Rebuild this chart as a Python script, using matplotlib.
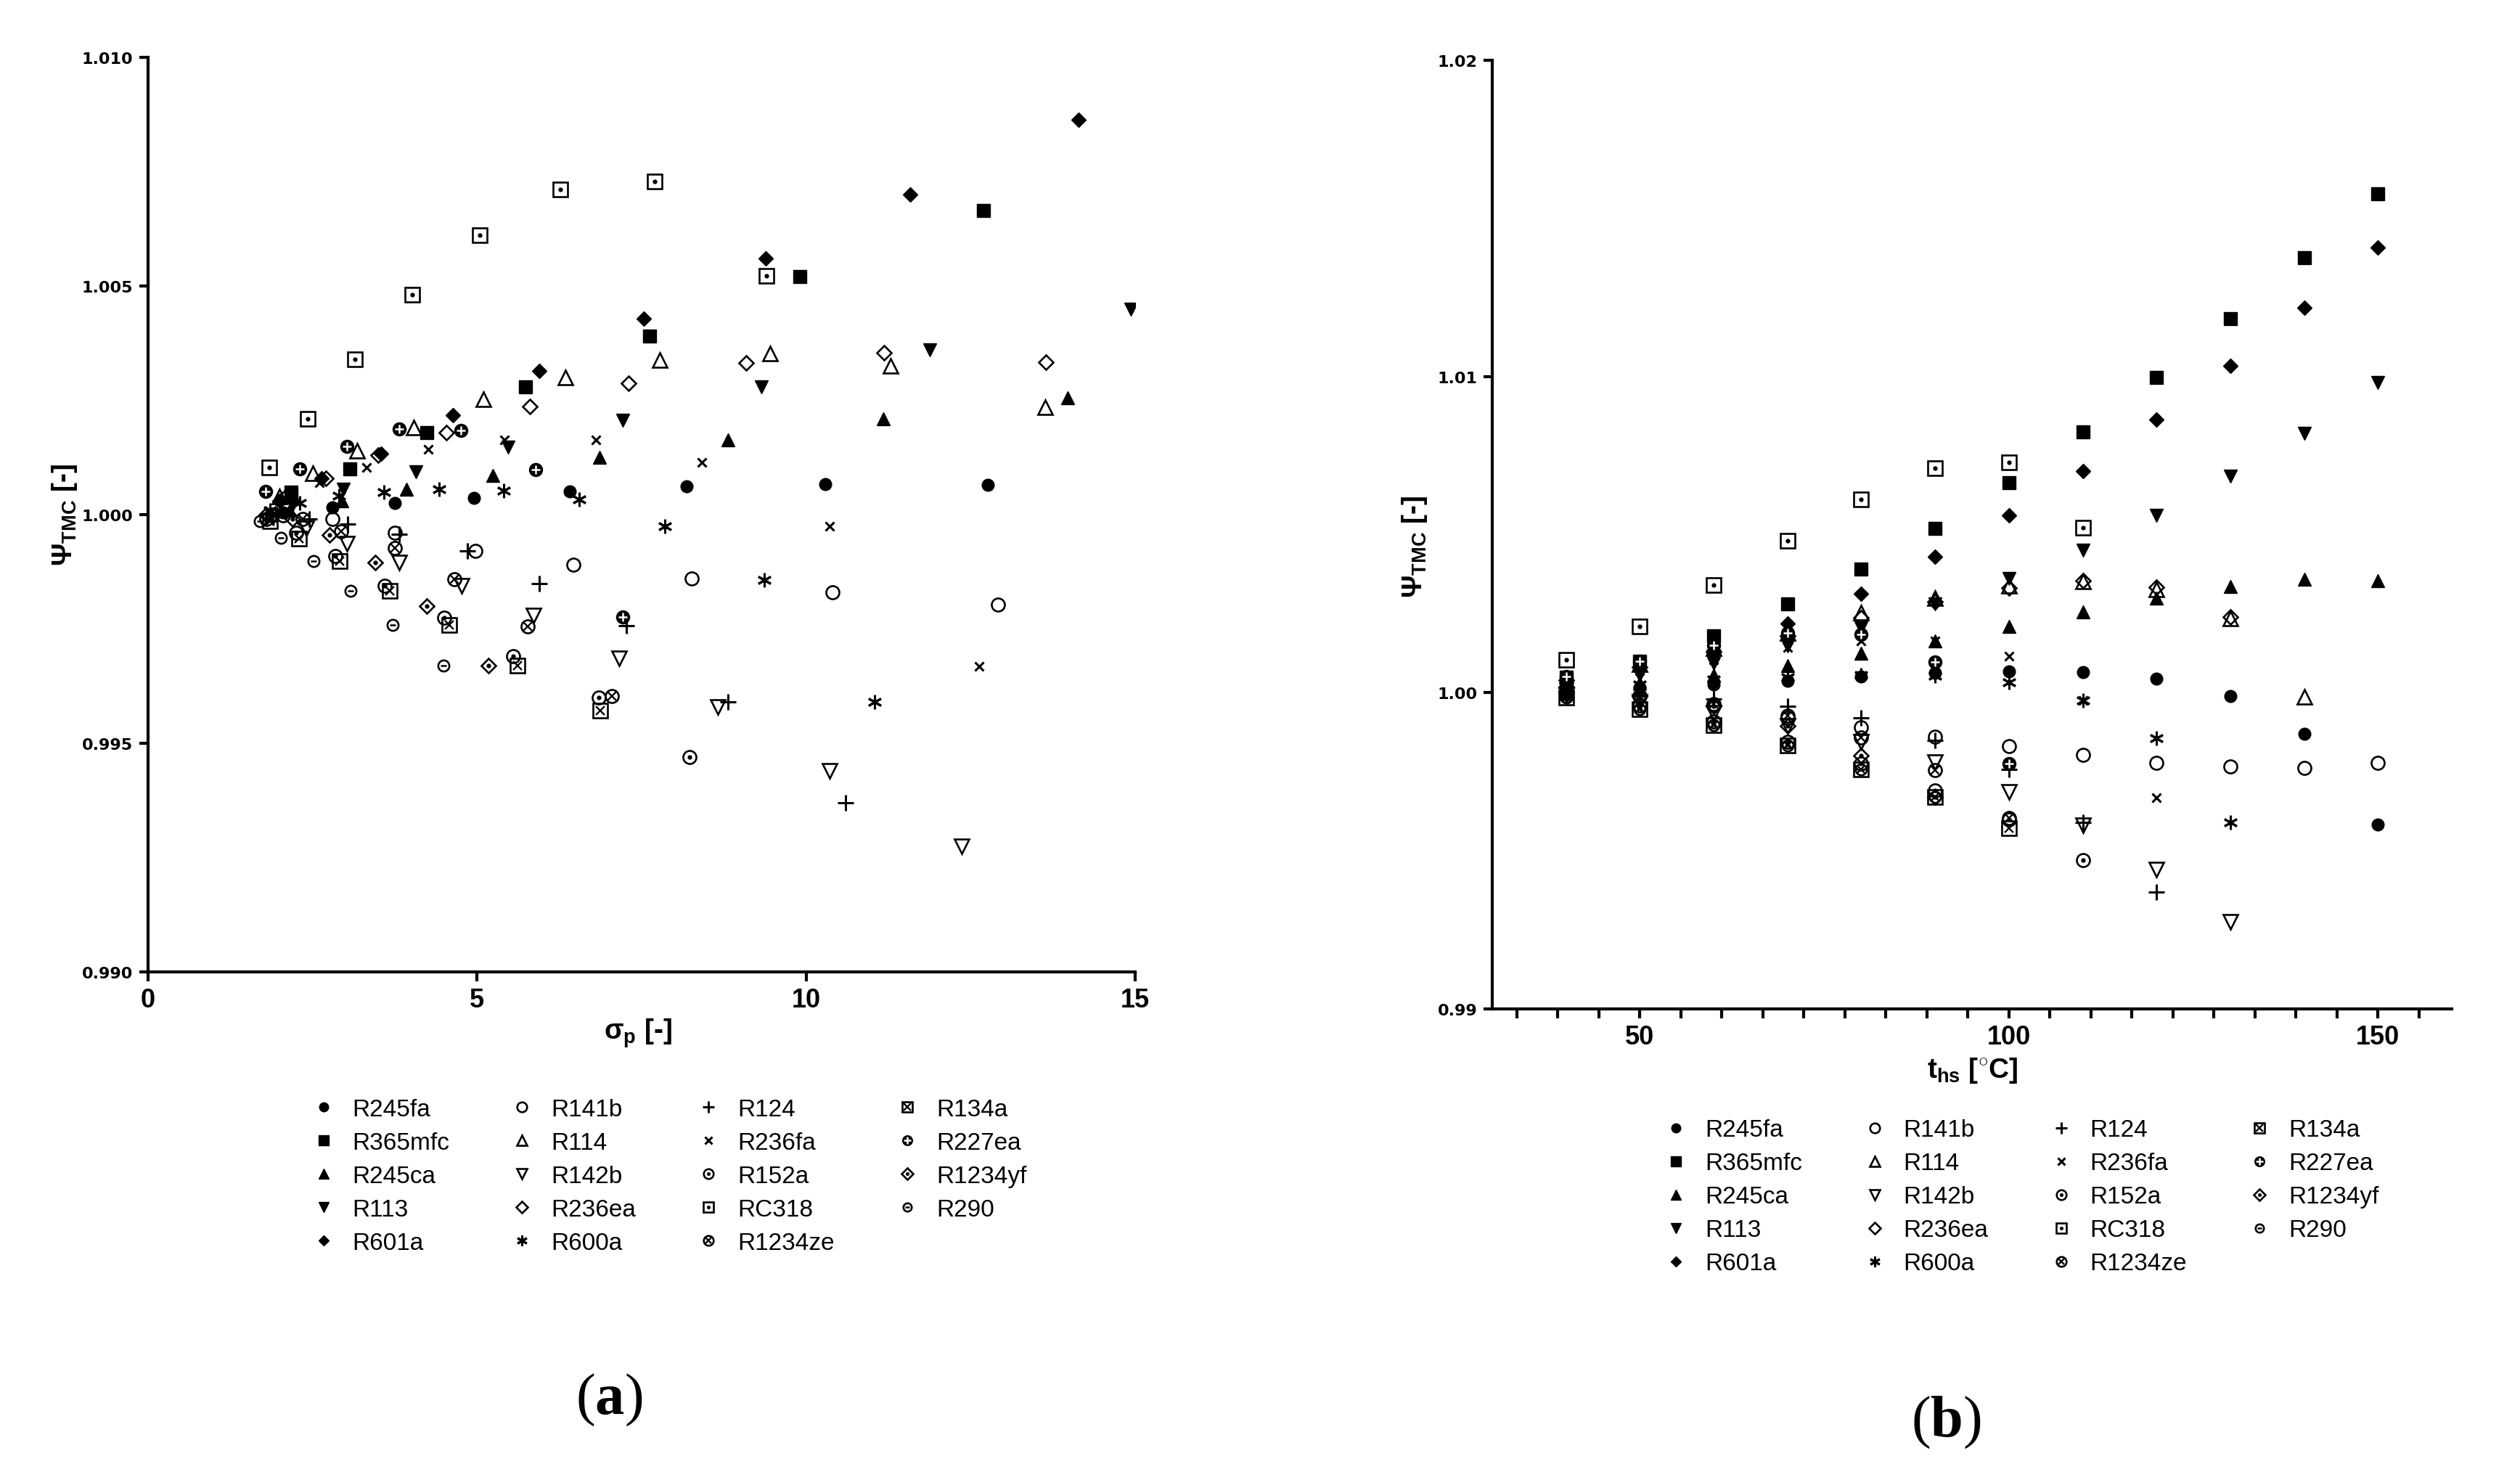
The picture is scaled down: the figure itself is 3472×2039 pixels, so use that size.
import numpy as np
import matplotlib
matplotlib.use('Agg')
import matplotlib.pyplot as plt
from matplotlib import font_manager
from matplotlib.ticker import MultipleLocator, FormatStrFormatter

fonts = {f.name for f in font_manager.fontManager.ttflist}
if 'Liberation Sans Narrow' in fonts:
    narrow, leg_size = 'Liberation Sans Narrow', 28
else:
    narrow, leg_size = 'Liberation Sans', 24

plt.rcParams['mathtext.fontset'] = 'custom'
plt.rcParams['mathtext.rm'] = narrow + ':bold'
plt.rcParams['mathtext.it'] = narrow + ':bold'
plt.rcParams['mathtext.bf'] = 'Liberation Serif:bold'

nan = np.nan

# heat source temperature [C], every series starts at 40
temps = [40, 50, 60, 70, 80, 90, 100, 110, 120, 130, 140, 150]

# Psi_TMC values (panel b) and pressure ratio sigma_p (panel a), nan = off chart
psi_R245fa = [1.00005, 1.00016, 1.00026, 1.00037, 1.00051, 1.00062, 1.00067, 1.00065, 1.00044, 0.99989, 0.99871, 0.99582]
sig_R245fa = [2.05, 2.80, 3.75, 4.95, 6.41, 8.18, 10.29, 12.76, nan, nan, nan, nan]

psi_R365mfc = [1.0005, 1.0010, 1.0018, 1.0028, 1.0039, 1.0052, 1.00665, 1.00825, 1.00997, 1.01183, 1.01376, 1.01578]
sig_R365mfc = [2.17, 3.07, 4.24, 5.73, 7.62, 9.90, 12.70, nan, nan, nan, nan, nan]

psi_R245ca = [1.0001, 1.0003, 1.00055, 1.00086, 1.00125, 1.00164, 1.00209, 1.00255, 1.0030, 1.00337, 1.00358, 1.00354]
sig_R245ca = [2.15, 2.95, 3.93, 5.24, 6.86, 8.81, 11.17, 13.97, nan, nan, nan, nan]

psi_R113 = [1.0002, 1.00055, 1.00093, 1.00147, 1.00206, 1.0028, 1.0036, 1.0045, 1.0056, 1.00685, 1.0082, 1.0098]
sig_R113 = [2.2, 2.97, 4.07, 5.47, 7.21, 9.32, 11.88, 14.93, nan, nan, nan, nan]

psi_R601a = [1.0003, 1.0008, 1.00134, 1.00218, 1.00314, 1.00429, 1.0056, 1.0070, 1.00863, 1.01034, 1.01218, 1.01408]
sig_R601a = [2.0, 2.64, 3.54, 4.63, 5.94, 7.53, 9.39, 11.58, 14.14, nan, nan, nan]

psi_R141b = [0.99998, 0.9999, 0.9996, 0.99921, 0.99891, 0.99861, 0.9983, 0.99803, 0.99778, 0.99766, 0.99763, 0.99778]
sig_R141b = [2.05, 2.8, 3.75, 4.97, 6.46, 8.26, 10.40, 12.92, nan, nan, nan, nan]

psi_R114 = [1.0004, 1.0009, 1.0014, 1.0019, 1.00253, 1.0030, 1.00338, 1.00352, 1.00326, 1.00235, 0.99986]
sig_R114 = [2.0, 2.5, 3.18, 4.04, 5.10, 6.34, 7.78, 9.45, 11.28, 13.63, nan]

psi_R142b = [0.99995, 0.9997, 0.99937, 0.99895, 0.99845, 0.9978, 0.99686, 0.9958, 0.9944, 0.99275]
sig_R142b = [1.9, 2.4, 3.02, 3.82, 4.76, 5.86, 7.16, 8.66, 10.36, 12.36]

psi_R236ea = [1.0004, 1.0008, 1.0013, 1.0018, 1.00237, 1.00288, 1.00332, 1.00354, 1.00334, 1.0024]
sig_R236ea = [2.1, 2.7, 3.50, 4.53, 5.80, 7.30, 9.09, 11.18, 13.64, nan]

psi_R600a = [1.0001, 1.00026, 1.00042, 1.0005, 1.00056, 1.00053, 1.00033, 0.99975, 0.99857, 0.99591]
sig_R600a = [1.85, 2.3, 2.9, 3.58, 4.42, 5.40, 6.55, 7.85, 9.36, 11.04]

psi_R124 = [1.0000, 0.9999, 0.9998, 0.99958, 0.9992, 0.9985, 0.99757, 0.9959, 0.9937]
sig_R124 = [1.95, 2.45, 3.03, 3.82, 4.85, 5.94, 7.27, 8.81, 10.6]

psi_R236fa = [1.0003, 1.0007, 1.00104, 1.00143, 1.00164, 1.00164, 1.00115, 0.99975, 0.99668]
sig_R236fa = [2.0, 2.6, 3.32, 4.26, 5.41, 6.80, 8.42, 10.36, 12.63]

psi_R152a = [0.9999, 0.9996, 0.9991, 0.99845, 0.99775, 0.9969, 0.9960, 0.99470]
sig_R152a = [1.8, 2.25, 2.85, 3.6, 4.5, 5.55, 6.85, 8.23]

psi_RC318 = [1.00103, 1.0021, 1.0034, 1.00481, 1.00612, 1.00711, 1.00729, 1.00522]
sig_RC318 = [1.84, 2.43, 3.14, 4.01, 5.04, 6.26, 7.70, 9.40]

psi_R1234ze = [1.0000, 0.9999, 0.99964, 0.99927, 0.99858, 0.99755, 0.99604]
sig_R1234ze = [1.9, 2.35, 2.93, 3.75, 4.65, 5.77, 7.05]

psi_R134a = [0.99985, 0.99948, 0.99898, 0.99834, 0.99758, 0.9967, 0.99572]
sig_R134a = [1.85, 2.29, 2.91, 3.67, 4.58, 5.61, 6.87]

psi_R227ea = [1.00051, 1.0010, 1.0015, 1.00188, 1.00185, 1.00098, 0.99776]
sig_R227ea = [1.79, 2.31, 3.02, 3.82, 4.75, 5.89, 7.21]

psi_R1234yf = [1.0000, 0.9999, 0.99956, 0.99895, 0.9980, 0.9967]
sig_R1234yf = [1.8, 2.2, 2.76, 3.45, 4.24, 5.17]

psi_R290 = [0.99985, 0.99949, 0.99898, 0.99834, 0.99758, 0.9967]
sig_R290 = [1.7, 2.02, 2.51, 3.08, 3.72, 4.49]

names = ['R245fa', 'R365mfc', 'R245ca', 'R113', 'R601a',
         'R141b', 'R114', 'R142b', 'R236ea', 'R600a',
         'R124', 'R236fa', 'R152a', 'RC318', 'R1234ze',
         'R134a', 'R227ea', 'R1234yf', 'R290']
psi_all = [psi_R245fa, psi_R365mfc, psi_R245ca, psi_R113, psi_R601a,
           psi_R141b, psi_R114, psi_R142b, psi_R236ea, psi_R600a,
           psi_R124, psi_R236fa, psi_R152a, psi_RC318, psi_R1234ze,
           psi_R134a, psi_R227ea, psi_R1234yf, psi_R290]
sig_all = [sig_R245fa, sig_R365mfc, sig_R245ca, sig_R113, sig_R601a,
           sig_R141b, sig_R114, sig_R142b, sig_R236ea, sig_R600a,
           sig_R124, sig_R236fa, sig_R152a, sig_RC318, sig_R1234ze,
           sig_R134a, sig_R227ea, sig_R1234yf, sig_R290]

k = 'black'
filled = dict(mfc=k, mec=k)
hollow = dict(mfc='none', mec=k, mew=1.9)
dot = dict(marker='o', ms=3.5, mfc=k, mec=k)
styles = {
    'R245fa': [dict(marker='o', ms=12, **filled)],
    'R365mfc': [dict(marker='s', ms=12.5, **filled)],
    'R245ca': [dict(marker='^', ms=13, **filled)],
    'R113': [dict(marker='v', ms=13, **filled)],
    'R601a': [dict(marker='D', ms=10, **filled)],
    'R141b': [dict(marker='o', ms=13, **hollow)],
    'R114': [dict(marker='^', ms=14, **hollow)],
    'R142b': [dict(marker='v', ms=14, **hollow)],
    'R236ea': [dict(marker='D', ms=10.5, **hollow)],
    'R600a': [dict(marker=(6, 2, 0), ms=14, mec=k, mew=2.2)],
    'R124': [dict(marker='+', ms=16, mec=k, mew=2.2)],
    'R236fa': [dict(marker='x', ms=9, mec=k, mew=2.2)],
    'R152a': [dict(marker='o', ms=13, **hollow), dot],
    'RC318': [dict(marker='s', ms=14, **hollow), dot],
    'R1234ze': [dict(marker='o', ms=13, **hollow), dict(marker='x', ms=8, mec=k, mew=1.7)],
    'R134a': [dict(marker='s', ms=14, **hollow), dict(marker='x', ms=9, mec=k, mew=1.7)],
    'R227ea': [dict(marker='o', ms=13, **filled), dict(marker='+', ms=9, mec='white', mew=1.8)],
    'R1234yf': [dict(marker='D', ms=10.5, **hollow), dot],
    'R290': [dict(marker='o', ms=11, **hollow), dict(marker='_', ms=6, mec=k, mew=1.8)],
}

fig = plt.figure(figsize=(34.73, 20.40), dpi=100)
axa = fig.add_axes([0.05874, 0.34314, 0.3916, 0.6176])
axb = fig.add_axes([0.59200, 0.31814, 0.38065, 0.64069])

handles = []
for name, psi, sig in zip(names, psi_all, sig_all):
    t = temps[:len(psi)]
    layers = []
    for st in styles[name]:
        h, = axa.plot(sig, psi, ls='none', **st)
        axb.plot(t, psi, ls='none', **st)
        layers.append(h)
    handles.append(tuple(layers) if len(layers) > 1 else layers[0])

for ax in (axa, axb):
    ax.spines['top'].set_visible(False)
    ax.spines['right'].set_visible(False)
    ax.spines['left'].set_linewidth(3)
    ax.spines['bottom'].set_linewidth(3)
    ax.tick_params(which='both', direction='out', length=9, width=3, color=k, pad=6)

axa.set_xlim(0, 15)
axa.set_ylim(0.990, 1.010)
axa.set_xticks([0, 5, 10, 15])
axa.set_yticks([0.990, 0.995, 1.000, 1.005, 1.010])
axa.yaxis.set_major_formatter(FormatStrFormatter('%.3f'))

axb.set_xlim(30, 160)
axb.set_ylim(0.99, 1.02)
axb.set_xticks([50, 100, 150])
axb.xaxis.set_minor_locator(MultipleLocator(50 / 9))
axb.set_yticks([0.99, 1.00, 1.01, 1.02])
axb.yaxis.set_major_formatter(FormatStrFormatter('%.2f'))

for ax in (axa, axb):
    for lab in ax.get_yticklabels():
        lab.set_fontfamily('DejaVu Sans')
        lab.set_fontweight('bold')
        lab.set_fontsize(16)
    for lab in ax.get_xticklabels():
        lab.set_fontfamily(narrow)
        lab.set_fontweight('bold')
        lab.set_fontsize(26)

lab_kw = dict(fontsize=28, family=narrow, fontweight='bold', ha='center', va='center')
fig.text(0.2531, 0.302, r'$\mathrm{\sigma}_{\mathrm{p}}$ [-]', **lab_kw)
fig.text(0.7826, 0.277, r'$\mathrm{t}_{\mathrm{hs}}$ [$^{\circ}$C]', **lab_kw)
fig.text(0.0256, 0.6525, r'$\mathrm{\Psi}_{\mathrm{TMC}}$ [-]', rotation=90, **lab_kw)
fig.text(0.5612, 0.6309, r'$\mathrm{\Psi}_{\mathrm{TMC}}$ [-]', rotation=90, **lab_kw)

fig.text(0.2416, 0.0544, r'($\mathbf{a}$)', fontsize=58, family='Liberation Serif', ha='center', va='center')
fig.text(0.7722, 0.0392, r'($\mathbf{b}$)', fontsize=58, family='Liberation Serif', ha='center', va='center')

leg_kw = dict(ncol=4, loc='upper left', bbox_transform=fig.transFigure, frameon=False,
              prop=dict(family=narrow, size=leg_size), handlelength=1.0, handletextpad=0.7,
              columnspacing=2.5, labelspacing=0.45, borderpad=0, borderaxespad=0, markerscale=0.75)
axa.legend(handles, names, bbox_to_anchor=(0.1235, 0.258), **leg_kw)
axb.legend(handles, names, bbox_to_anchor=(0.660, 0.244), **leg_kw)

fig.savefig('out.png', dpi=100)
